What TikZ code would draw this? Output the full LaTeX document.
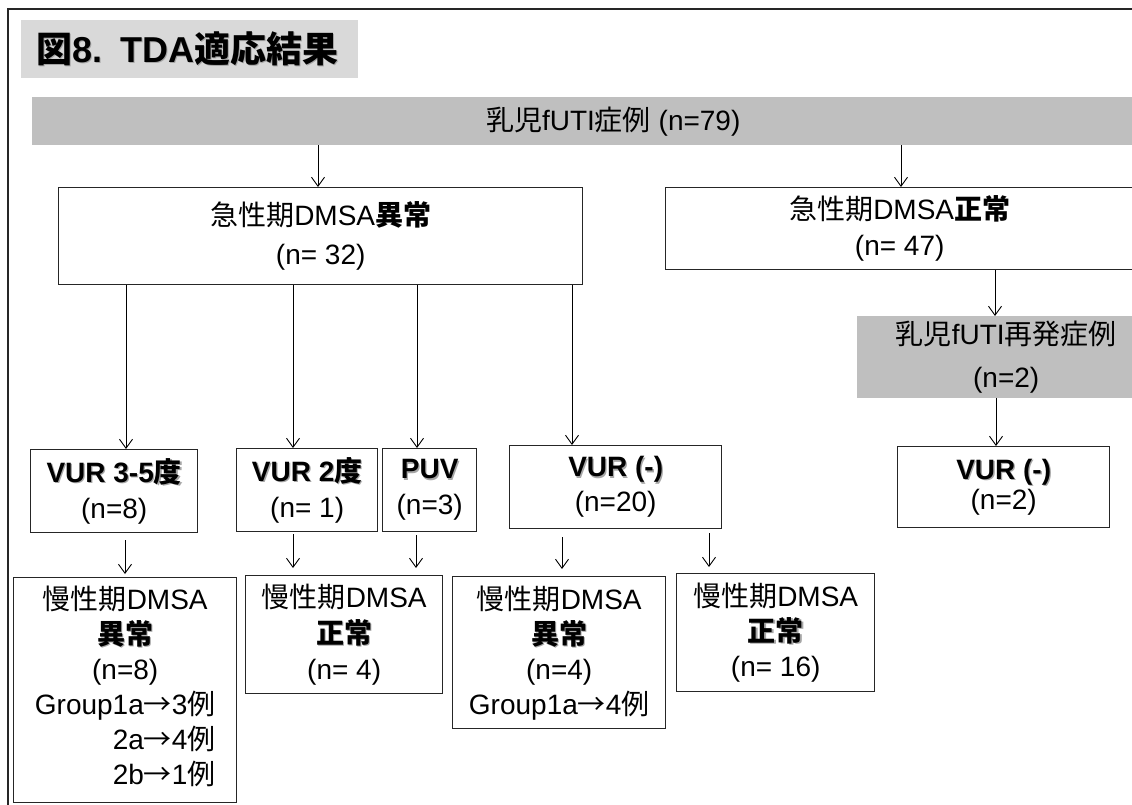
\documentclass[tikz,border=0pt]{standalone}
\usepackage{fontspec}
\setmainfont{Liberation Sans}
\newfontfamily\jp{Noto Sans CJK JP}
\usetikzlibrary{arrows.meta,calc}
\newcommand\J[1]{{\jp #1}}
\newcommand\sh[1]{\leavevmode\rlap{\kern1.3pt\raisebox{-1.3pt}{\color{black!35}#1}}#1}
\definecolor{bargray}{RGB}{191,191,191}
\definecolor{titlegray}{RGB}{217,217,217}
\tikzset{
  box/.style={draw=black!85, line width=1.4pt, inner sep=0pt, anchor=north west, align=center},
  graybox/.style={fill=bargray, inner sep=0pt, anchor=north west, align=center},
  arr/.style={line width=0.9pt, -{Straight Barb[length=9pt,width=13pt,line width=0.9pt]}},
  fs/.style={font=\fontsize{28}{#1}\selectfont}
}
\begin{document}
\begin{tikzpicture}[x=1pt,y=-1pt]
\useasboundingbox (0,0) rectangle (1132,805);
\clip (0,0) rectangle (1132,805);
\fill[white] (0,0) rectangle (1132,805);
% outer frame
\draw[line width=2pt, black!85] (7.5,810) -- (7.5,9.5) -- (1140,9.5);
% title
\node[fill=titlegray, anchor=north west, inner xsep=15pt, inner ysep=0pt, text width=307pt, minimum height=58pt, align=left, font=\fontsize{36}{40}\selectfont\bfseries] (title) at (21,20) {\sh{\J{図}8. TDA\J{適応結果}}};
% root bar
\node[graybox, minimum width=1162, minimum height=48, fs=34] (root) at (32,97) {\J{乳児}fUTI\J{症例} (n=79)};
% second level
\node[box, minimum width=524, minimum height=97, fs=39] (abn) at (58,187) {\J{急性期}DMSA{\bfseries\J{異常}}\\(n= 32)};
\node[box, minimum width=468, minimum height=82, fs=36] (nor) at (665,187) {\J{急性期}DMSA{\bfseries\J{正常}}\\(n= 47)};
\node[graybox, minimum width=298, minimum height=82, fs=43] (rec) at (857,316) {\J{乳児}fUTI\J{再発症例}\\(n=2)};
% third level
\node[box, minimum width=167, minimum height=83, fs=36] (vur35) at (30,449) {\sh{\bfseries VUR 3-5\J{度}}\\(n=8)};
\node[box, minimum width=141, minimum height=83, fs=36] (vur2) at (236,448) {\sh{\bfseries VUR 2\J{度}}\\(n= 1)};
\node[box, minimum width=94, minimum height=83, fs=36] (puv) at (382,448) {\sh{\bfseries PUV}\\(n=3)};
\node[box, minimum width=212, minimum height=83, fs=35] (vurn) at (509,445) {\sh{\bfseries VUR (-)}\\(n=20)};
\node[box, minimum width=212, minimum height=81, fs=30] (vurr) at (897,446) {\sh{\bfseries VUR (-)}\\(n=2)};
% fourth level
\node[box, minimum width=223, minimum height=225, fs=35] (ca) at (13,577) {\J{慢性期}DMSA\\\sh{\bfseries\J{異常}}\\(n=8)\\\begin{tabular}[t]{@{}r@{}}Group1a\J{→}3\J{例}\\2a\J{→}4\J{例}\\2b\J{→}1\J{例}\end{tabular}};
\node[box, minimum width=197, minimum height=118, fs=36] (cb) at (245,575) {\J{慢性期}DMSA\\\sh{\bfseries\J{正常}}\\(n= 4)};
\node[box, minimum width=213, minimum height=152, fs=35] (cc) at (452,576) {\J{慢性期}DMSA\\\sh{\bfseries\J{異常}}\\(n=4)\\Group1a\J{→}4\J{例}};
\node[box, minimum width=198, minimum height=118, fs=35] (cd) at (676,573) {\J{慢性期}DMSA\\\sh{\bfseries\J{正常}}\\(n= 16)};
% connectors
\draw[arr] (root.south -| 318,0) -- (abn.north -| 318,0);
\draw[arr] (root.south -| 901,0) -- (nor.north -| 901,0);
\draw[arr] (abn.south -| 126,0) -- (vur35.north -| 126,0);
\draw[arr] (abn.south -| 293,0) -- (vur2.north -| 293,0);
\draw[arr] (abn.south -| 417,0) -- (puv.north -| 417,0);
\draw[arr] (abn.south -| 572,0) -- (vurn.north -| 572,0);
\draw[arr] (nor.south -| 995,0) -- (rec.north -| 995,0);
\draw[arr] (rec.south -| 996,0) -- (vurr.north -| 996,0);
\draw[arr] ($(vur35.south -| 125,0)+(0,7)$) -- ($(ca.north -| 125,0)+(0,-3)$);
\draw[arr] ($(vur2.south -| 293,0)+(0,2)$) -- ($(cb.north -| 293,0)+(0,-7)$);
\draw[arr] ($(puv.south -| 416,0)+(0,3)$) -- ($(cb.north -| 416,0)+(0,-7)$);
\draw[arr] ($(vurn.south -| 562,0)+(0,8)$) -- ($(cc.north -| 562,0)+(0,-7)$);
\draw[arr] ($(vurn.south -| 709,0)+(0,4)$) -- ($(cd.north -| 709,0)+(0,-6)$);
\end{tikzpicture}
\end{document}
